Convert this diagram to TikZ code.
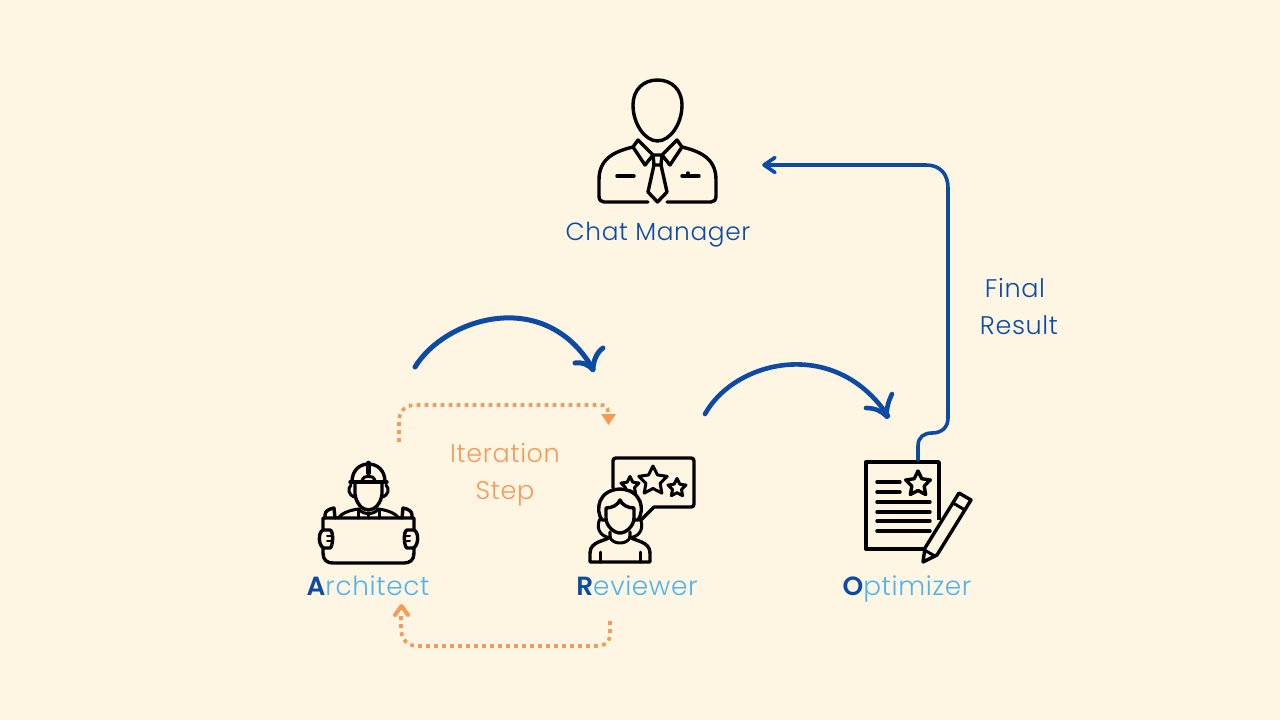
\documentclass[tikz,border=0pt]{standalone}
\usepackage{fontspec}
\setmainfont{Poppins Light}[BoldFont=Poppins SemiBold,LetterSpace=2.5]
\definecolor{bg}{HTML}{FFF5E3}
\definecolor{deep}{HTML}{0B4BA5}
\definecolor{sky}{HTML}{4DB4EE}
\definecolor{peach}{HTML}{F59B5A}
\tikzset{
 icon/.style={draw=black,line width=3.4pt,line join=round,line cap=round},
 thin icon/.style={icon,line width=3pt},
 bigarc/.style={draw=deep,line width=5pt,line cap=round},
 flow/.style={draw=deep,line width=3.6pt,line cap=round},
 dots/.style={draw=peach,line width=3.6pt,dash pattern=on 3.8pt off 4.2pt},
 label/.style={font=\fontsize{25.5}{30}\selectfont,inner sep=0pt,text=deep,anchor=base},
 role/.style={font=\fontsize{26.3}{30}\selectfont,inner sep=0pt,text=sky,anchor=base},
}
\newcommand{\starpath}[4][]{\draw[thin icon,#1] plot[samples at={0,...,9},variable=\i] ({#2+(mod(\i,2)==0?#4:0.5*#4)*sin(36*\i)},{#3-(mod(\i,2)==0?#4:0.5*#4)*cos(36*\i)}) -- cycle;}
\begin{document}
\begin{tikzpicture}[x=1pt,y=-1pt]
\useasboundingbox (0,0) rectangle (1280,720);
\fill[bg] (0,0) rectangle (1280,720);

% Chat Manager
\draw[icon] (657.5,80) .. controls (672,80) and (682,90) .. (682,105) .. controls (682,124) and (670,141) .. (657.5,141) .. controls (645,141) and (633,124) .. (633,105) .. controls (633,90) and (643,80) .. (657.5,80) -- cycle;
\draw[icon] (638,140) -- (633,147) -- (645,165) -- (653,155) -- cycle;
\draw[icon] (677,140) -- (682,147) -- (670,165) -- (662,155) -- cycle;
\draw[icon] (653,155) -- (662,155) -- (661,165) -- (654,165) -- cycle;
\draw[icon] (654,165) -- (648,192) -- (657.5,202) -- (667,192) -- (661,165);
\draw[icon] (633,147) .. controls (612,152) and (599,160) .. (599,180) -- (599,196) .. controls (599,200) and (601,202) .. (604,202) -- (648,202);
\draw[icon] (682,147) .. controls (703,152) and (716,160) .. (716,180) -- (716,196) .. controls (716,200) and (714,202) .. (711,202) -- (667,202);
\draw[icon] (617,176) -- (634,176);
\draw[icon] (682,176) -- (699,176);
\draw[icon] (688,174) -- (688,173);
\node[label,font=\fontsize{24.8}{30}\selectfont] (chatlabel) at (658,240) {Chat Manager};

% Architect
\draw[icon] (352,482) .. controls (352,470) and (360,464) .. (368.5,464) .. controls (377,464) and (385,470) .. (385,482);
\draw[icon] (350,482) -- (387,482);
\draw[icon,line width=4.6pt] (368.5,463) -- (368.5,473);
\draw[thin icon] (362,480) .. controls (363,475) and (374,475) .. (375,480);
\draw[icon] (355,483) -- (355,494) .. controls (356,503) and (362,510) .. (368.5,510) .. controls (375,510) and (381,503) .. (382,494) -- (382,483);
\draw[thin icon] (351,485) .. controls (347,489) and (349,495) .. (354,497);
\draw[thin icon] (386,485) .. controls (390,489) and (388,495) .. (383,497);
\draw[thin icon] (338,518) .. controls (342,513) and (350,510) .. (359,509);
\draw[thin icon] (399,518) .. controls (395,513) and (387,510) .. (378,509);
\draw[thin icon] (359,509) .. controls (362,515) and (375,515) .. (378,509);
\draw[thin icon] (358,510) -- (358,518);
\draw[thin icon] (379,510) -- (379,518);
\draw[thin icon] (368.5,514) -- (368.5,518);
\draw[icon] (323,518) -- (414,518) -- (414,553) .. controls (414,560) and (410,563) .. (404,563) -- (333,563) .. controls (327,563) and (323,560) .. (323,553) -- cycle;
\draw[icon] (325,518) -- (325,515) .. controls (325,511) and (329,509) .. (334,508) -- (335,518);
\draw[icon] (412,518) -- (412,515) .. controls (412,511) and (408,509) .. (403,508) -- (402,518);
\draw[icon,fill=bg] (323,530) -- (330,530) .. controls (334,531) and (333,547) .. (330,548) -- (324,548) .. controls (318,546) and (318,532) .. (323,530) -- cycle;
\draw[icon,fill=bg] (414,530) -- (407,530) .. controls (403,531) and (404,547) .. (407,548) -- (413,548) .. controls (419,546) and (419,532) .. (414,530) -- cycle;
\draw[thin icon,line width=2pt] (327,536) -- (332,536) (327,541) -- (332,541);
\draw[thin icon,line width=2pt] (405,536) -- (410,536) (405,541) -- (410,541);
\node[role] (archlabel) at (368,595) {\textbf{\textcolor{deep}{A}}rchitect};

% Reviewer
\draw[icon] (613,488) -- (613,461) .. controls (613,459) and (614,458) .. (616,458) -- (691,458) .. controls (693,458) and (694,459) .. (694,461) -- (694,504) .. controls (694,506) and (693,507) .. (691,507) -- (654,507) -- (641,520);
\starpath{653}{481}{15}
\starpath{677}{488}{9.5}
\starpath{630}{486}{9.5}
\draw[icon,fill=bg] (602,520) .. controls (595,510) and (598,490) .. (620,489) .. controls (642,490) and (645,510) .. (638,520) -- (602,520) -- cycle;
\draw[icon,fill=bg] (606,508) .. controls (612,508) and (618,505) .. (620,500) .. controls (622,505) and (628,508) .. (634,508) -- (634,518) .. controls (634,526) and (626,533) .. (620,533) .. controls (614,533) and (606,526) .. (606,518) -- cycle;
\draw[thin icon] (600,519) .. controls (596,526) and (599,535) .. (607,537);
\draw[thin icon] (640,519) .. controls (644,526) and (641,535) .. (633,537);
\draw[icon] (610,532) -- (610,537) .. controls (606,541) and (590,541) .. (590,553) -- (590,562) -- (650,562) -- (650,553) .. controls (650,541) and (634,541) .. (630,537) -- (630,532);
\draw[thin icon] (610,537) .. controls (612,545) and (628,545) .. (630,537);
\draw[thin icon] (600,552) -- (600,562);
\draw[thin icon] (640,552) -- (640,562);
\node[role] (revlabel) at (637,595) {\textbf{\textcolor{deep}{R}}eviewer};

% Optimizer
\draw[icon,line cap=butt] (925,549) -- (866,549) -- (866,462) -- (939,462) -- (939,520);
\draw[icon] (877,482) -- (900,482);
\draw[icon] (877,492) -- (900,492);
\foreach \yy in {502,512,521,531}{\draw[icon] (877,\yy) -- (930,\yy);}
\starpath[icon]{918}{484}{13}
\draw[icon] (923,562) -- (925,548) -- (959,493) -- (971,500) -- (937,555) -- cycle;
\draw[thin icon] (953,503) -- (965,510);
\draw[thin icon] (926,551) -- (935,556);
\node[role] (optlabel) at (907,595) {\textbf{\textcolor{deep}{O}}ptimizer};

% Free ends of the connectors
\coordinate (chatin) at (765,165);
\coordinate (optout) at (918,460);
\coordinate (archtop) at (415,367);
\coordinate (revtop) at (593,369);
\coordinate (revout) at (705,414);
\coordinate (opttop) at (888,416);
\coordinate (itera) at (399,442);
\coordinate (iterb) at (608,412);
\coordinate (backa) at (610,621);
\coordinate (backb) at (401,612);

% Connectors
\draw[bigarc] (archtop) .. controls (445,318) and (545,286) .. (revtop);
\draw[bigarc,line join=round] (575,363) .. controls (582,362) and (588,364) .. (593,370) .. controls (593,361) and (597,352) .. (603,348);
\draw[bigarc,line width=4.6pt] (revout) .. controls (735,360) and (835,336) .. (opttop);
\draw[bigarc,line width=4.6pt,line join=round] (866,408) .. controls (875,408) and (882,411) .. (887,417) .. controls (886,408) and (889,400) .. (892,394);
\draw[flow] (optout) -- (918,446) .. controls (918,437) and (924,433) .. (932,433) .. controls (942,433) and (948,427) .. (948,418) -- (948,188) .. controls (948,174) and (940,165) .. (926,165) -- (chatin);
\draw[flow,line join=round] (775,157.5) -- (764,165) -- (775,172.5);
\draw[dots] (itera) -- (399,422) .. controls (399,411) and (405,405) .. (416,405) -- (600,405) .. controls (605,405) and (608,406) .. (iterb);
\fill[peach] (601,414) -- (616,414) -- (608.5,425) -- cycle;
\draw[dots] (backa) -- (610,634) .. controls (610,642) and (605,646) .. (596,646) -- (418,646) .. controls (408,646) and (401,640) .. (401,628) -- (backb);
\draw[draw=peach,line width=4pt,line cap=round,line join=round] (395,615) -- (401.5,606) -- (408,615);

% Edge labels
\node[label] (finala) at (1015,297) {Final};
\node[label] (finalb) at (1019,334) {Result};
\node[label,text=peach] (itla) at (505,462) {Iteration};
\node[label,text=peach] (itlb) at (505,499) {Step};
\end{tikzpicture}
\end{document}
